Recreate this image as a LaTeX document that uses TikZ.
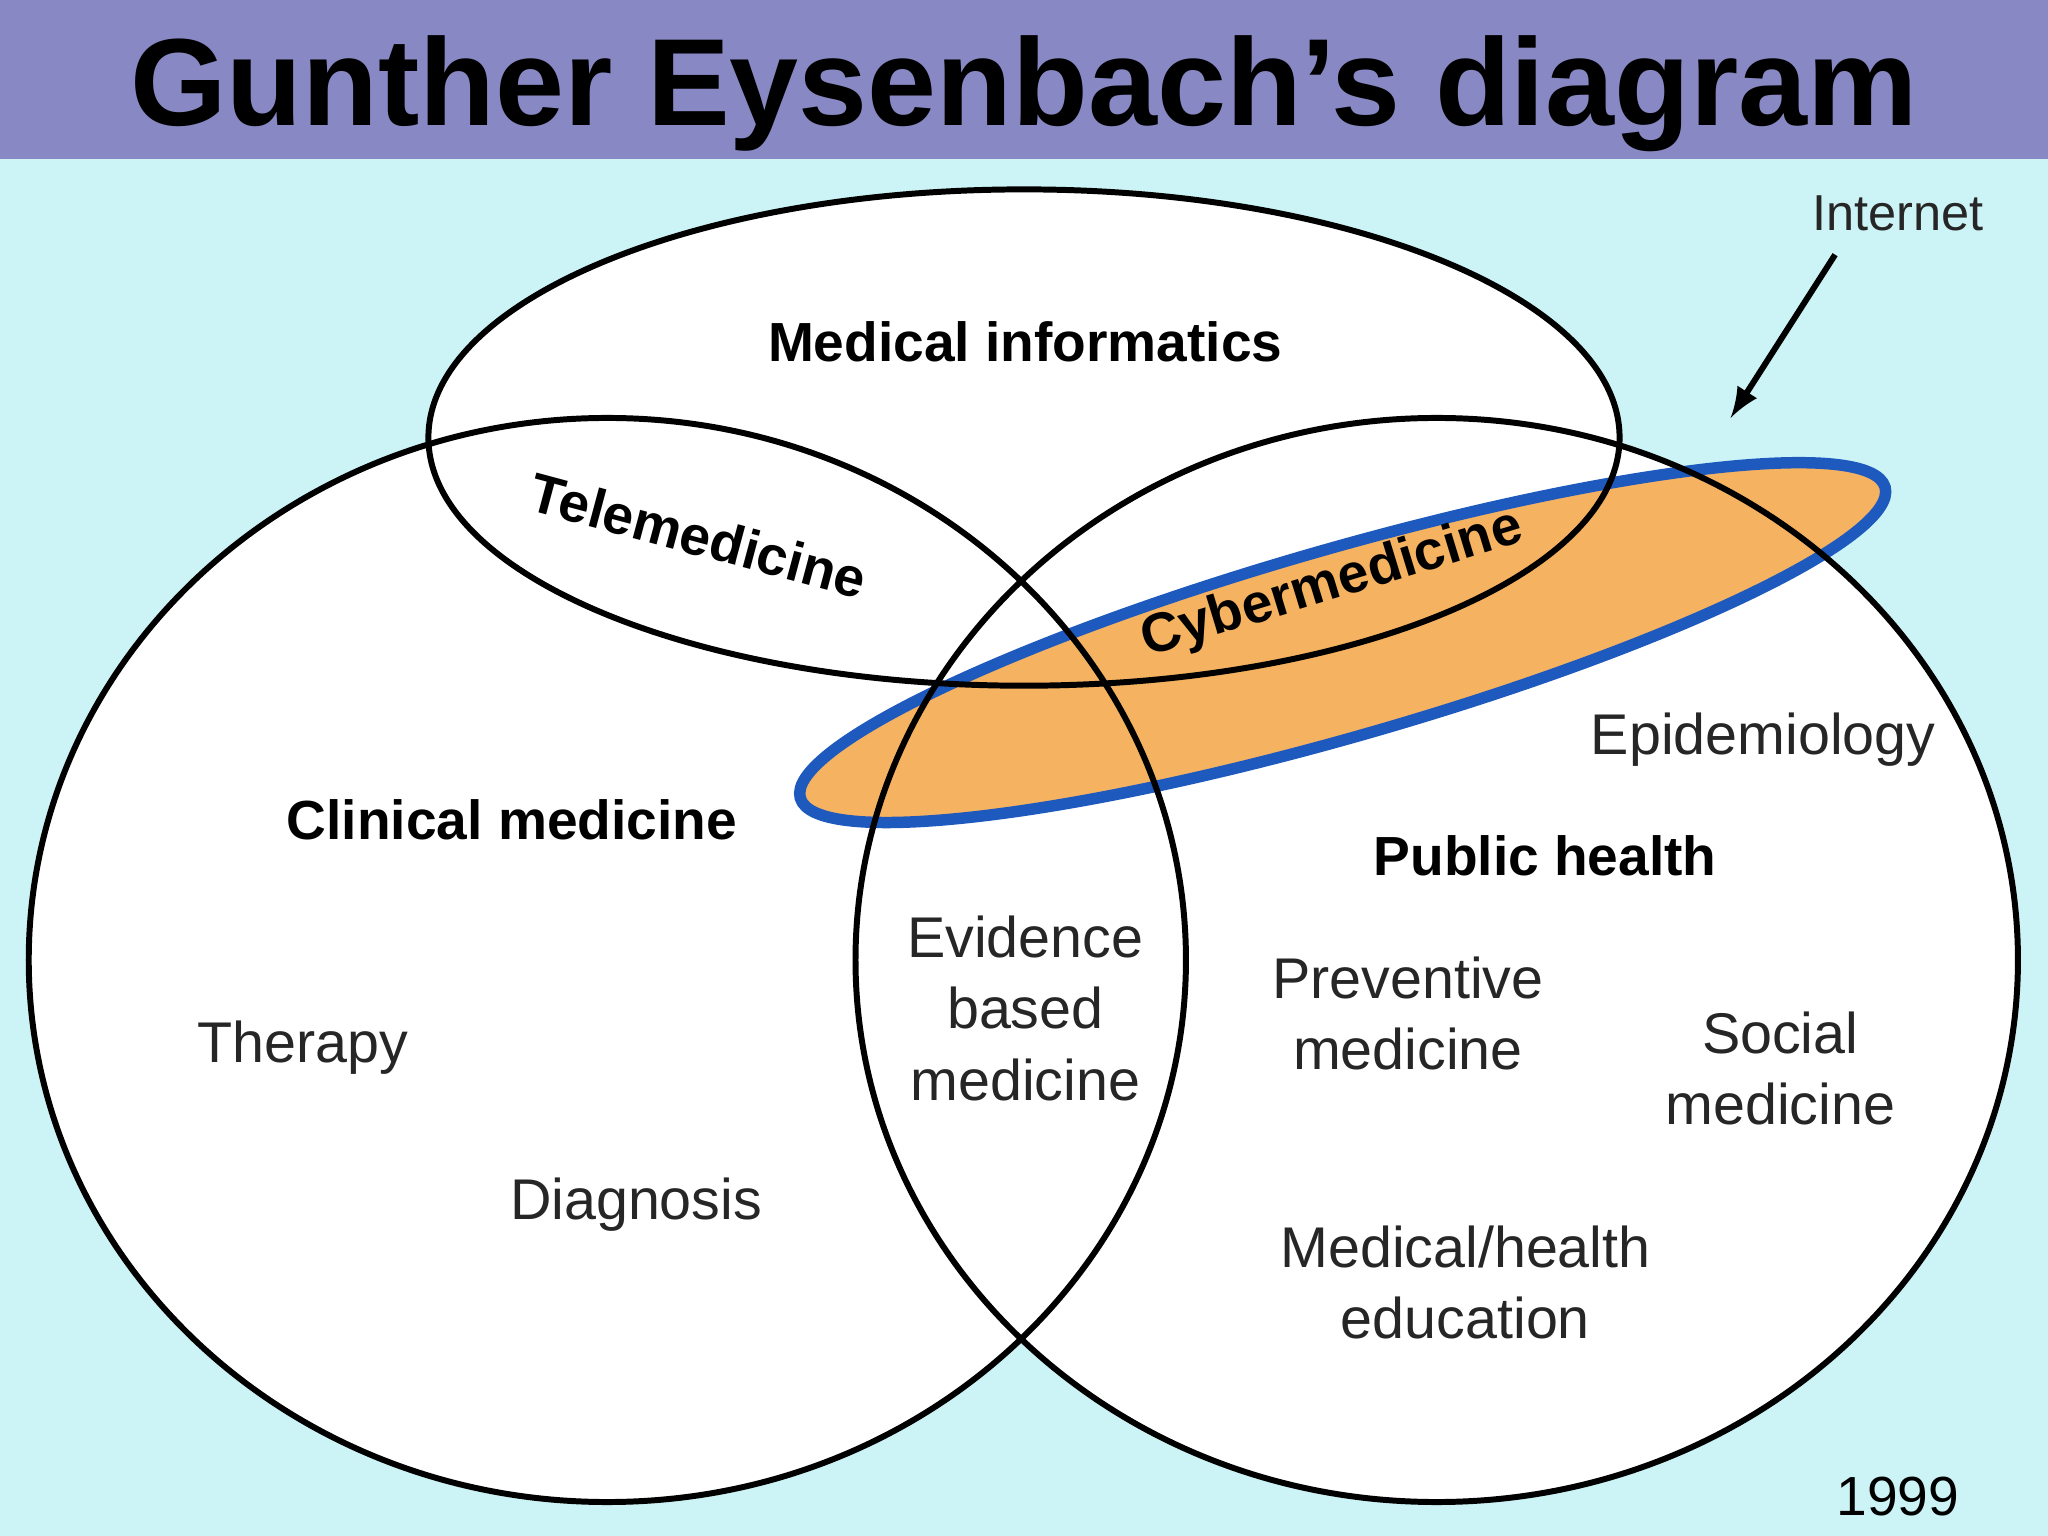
\documentclass[tikz,border=0pt]{standalone}
\usepackage{fontspec}
\setmainfont{Liberation Sans}
\begin{document}
\begin{tikzpicture}[x=0.01cm,y=-0.01cm,
  lbl/.style={font=\fontsize{12}{14}\selectfont\bfseries,align=center},
  rlbl/.style={font=\fontsize{12.5}{15.5}\selectfont,align=center,text=black!85},
  ring/.style={draw=black,line width=1.3pt}]
\useasboundingbox (0,0) rectangle (1568,1176);
\fill[fill={rgb,255:red,204;green,244;blue,246}] (0,0) rectangle (1568,1176);
\fill[fill={rgb,255:red,136;green,136;blue,196}] (0,0) rectangle (1568,122);
\node (title) at (784,72) {\fontsize{27}{30}\selectfont\bfseries Gunther Eysenbach’s diagram};
\fill[white] (465,735) ellipse [x radius=443, y radius=415];
\fill[white] (1100,735) ellipse [x radius=445, y radius=415];
\fill[white] (784,335) ellipse [x radius=456, y radius=190];
\filldraw[fill={rgb,255:red,245;green,178;blue,96},draw={rgb,255:red,30;green,90;blue,190},line width=2.5pt,rotate around={16:(1028,492)}] (1028,492) ellipse [x radius=432, y radius=72];
\draw[ring] (465,735) ellipse [x radius=443, y radius=415];
\draw[ring] (1100,735) ellipse [x radius=445, y radius=415];
\draw[ring] (784,335) ellipse [x radius=456, y radius=190];
\node[lbl] (mi) at (785,262) {Medical informatics};
\node[lbl,rotate=-15] (tm) at (535,410) {Telemedicine};
\node[lbl,rotate=17] (cm) at (1020,448) {Cybermedicine};
\node[lbl] (clin) at (392,628) {Clinical medicine};
\node[lbl] (ph) at (1183,655) {Public health};
\node[rlbl] (epi) at (1350,566) {Epidemiology};
\node[rlbl] (ebm) at (785,772) {Evidence\\based\\medicine};
\node[rlbl] (prev) at (1078,776) {Preventive\\medicine};
\node[rlbl] (soc) at (1363,818) {Social\\medicine};
\node[rlbl] (edu) at (1122,982) {Medical/health\\education};
\node[rlbl] (ther) at (232,802) {Therapy};
\node[rlbl] (diag) at (487,922) {Diagnosis};
\node[rlbl,font=\fontsize{11}{13}\selectfont] (inet) at (1453,163) {Internet};
\coordinate (tip) at (1325,320);
\coordinate (start) at (1405,195);
\draw[line width=1.3pt,-{latex}] (start) -- (tip);
\node (yr) at (1453,1146) {\fontsize{12}{14}\selectfont 1999};
\end{tikzpicture}
\end{document}
